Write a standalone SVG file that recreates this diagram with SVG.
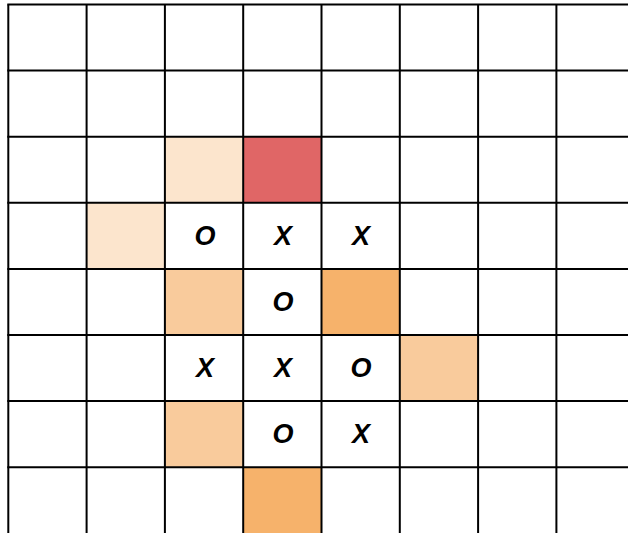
<svg xmlns="http://www.w3.org/2000/svg" width="628" height="533" viewBox="0 0 628 533">
<style>
.c1{fill:#fce5cd}.c2{fill:#f9cb9c}.c3{fill:#f6b26b}.cr{fill:#e06666}
.g line{stroke:#000;stroke-width:2}
text{font-family:"Liberation Sans",Arial,sans-serif;font-size:27px;font-weight:bold;font-style:italic;text-anchor:middle;dominant-baseline:central;fill:#000}
</style>
<rect width="628" height="533" fill="#fff"/>
<g id="cells">
<rect id="cell-2-2" class="c1" x="164.9" y="136.7" width="78.3" height="66.1"/>
<rect id="cell-3-2" class="cr" x="243.2" y="136.7" width="78.3" height="66.1"/>
<rect id="cell-1-3" class="c1" x="86.6" y="202.8" width="78.3" height="66.1"/>
<rect id="cell-2-4" class="c2" x="164.9" y="268.9" width="78.3" height="66.1"/>
<rect id="cell-4-4" class="c3" x="321.5" y="268.9" width="78.3" height="66.1"/>
<rect id="cell-5-5" class="c2" x="399.8" y="335" width="78.3" height="66.1"/>
<rect id="cell-2-6" class="c2" x="164.9" y="401.1" width="78.3" height="66.1"/>
<rect id="cell-3-7" class="c3" x="243.2" y="467.2" width="78.3" height="66.1"/>
</g>
<g class="g" id="grid">
<line x1="8.3" y1="4.5" x2="8.3" y2="533"/>
<line x1="86.6" y1="4.5" x2="86.6" y2="533"/>
<line x1="164.9" y1="4.5" x2="164.9" y2="533"/>
<line x1="243.2" y1="4.5" x2="243.2" y2="533"/>
<line x1="321.5" y1="4.5" x2="321.5" y2="533"/>
<line x1="399.8" y1="4.5" x2="399.8" y2="533"/>
<line x1="478.1" y1="4.5" x2="478.1" y2="533"/>
<line x1="556.4" y1="4.5" x2="556.4" y2="533"/>
<line x1="7.3" y1="4.5" x2="628" y2="4.5"/>
<line x1="7.3" y1="70.6" x2="628" y2="70.6"/>
<line x1="7.3" y1="136.7" x2="628" y2="136.7"/>
<line x1="7.3" y1="202.8" x2="628" y2="202.8"/>
<line x1="7.3" y1="268.9" x2="628" y2="268.9"/>
<line x1="7.3" y1="335" x2="628" y2="335"/>
<line x1="7.3" y1="401.1" x2="628" y2="401.1"/>
<line x1="7.3" y1="467.2" x2="628" y2="467.2"/>
</g>
<g id="marks">
<text x="205" y="236">O</text>
<text x="283" y="236">X</text>
<text x="361" y="236">X</text>
<text x="283" y="302">O</text>
<text x="205" y="368">X</text>
<text x="283" y="368">X</text>
<text x="361" y="368">O</text>
<text x="283" y="434">O</text>
<text x="361" y="434">X</text>
</g>
</svg>
